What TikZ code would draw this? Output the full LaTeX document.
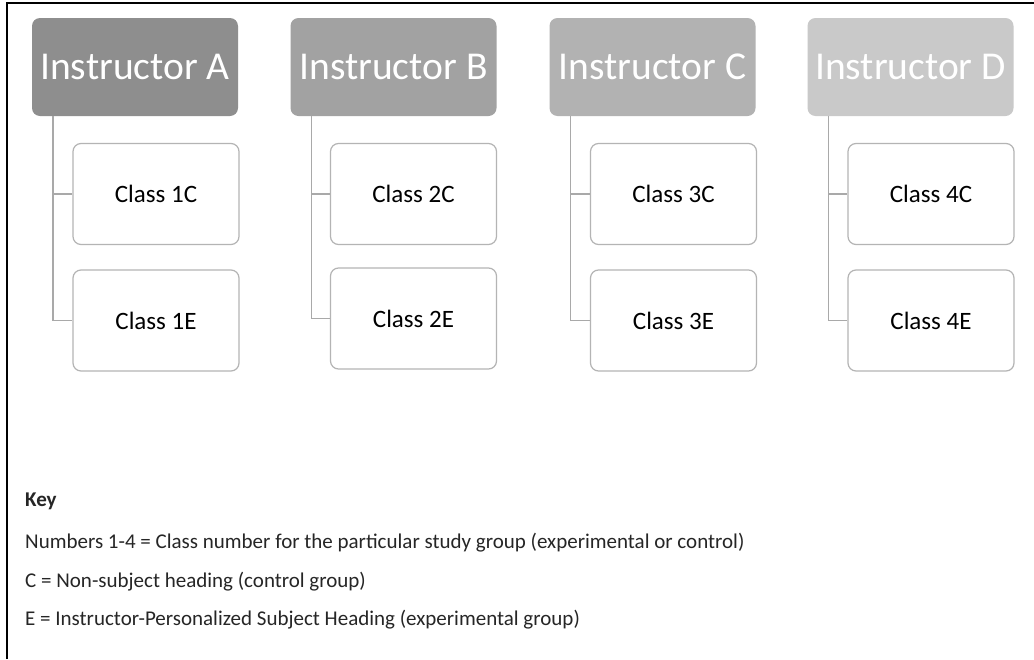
\documentclass[tikz,border=0pt]{standalone}
\usepackage{fontspec}
\setmainfont{Carlito}
\begin{document}
\begin{tikzpicture}[x=1pt,y=-1pt,
  instr/.style={rounded corners=8pt, minimum width=206pt, minimum height=98pt, inner sep=0pt,
    text=white, font=\fontsize{39.5}{48}\selectfont, draw=none},
  cls/.style={rounded corners=8pt, draw=boxgray, line width=1.2pt, fill=white,
    minimum width=166pt, minimum height=101pt, inner sep=0pt, font=\fontsize{25}{30}\selectfont},
  conn/.style={draw=linegray, line width=1.5pt},
  keytext/.style={anchor=base west, inner sep=0pt, font=\fontsize{21}{25}\selectfont, text=black!85}
]
\definecolor{gA}{HTML}{8E8E8E}
\definecolor{gB}{HTML}{A2A2A2}
\definecolor{gC}{HTML}{B2B2B2}
\definecolor{gD}{HTML}{C9C9C9}
\definecolor{boxgray}{HTML}{B4B4B4}
\definecolor{linegray}{HTML}{A9A9A9}
\useasboundingbox (0,0) rectangle (1034,659);
\fill[white] (0,0) rectangle (1034,659);
\draw[black, line width=1.6pt] (7,659) -- (7,3) -- (1034,3);

\node[instr, fill=gA] (iA) at (135,67) {Instructor A};
\node[instr, fill=gB] (iB) at (393.5,67) {Instructor B};
\node[instr, fill=gC] (iC) at (652.5,67) {Instructor C};
\node[instr, fill=gD] (iD) at (910.5,67) {Instructor D};

\node[cls] (a1) at (156,194) {Class 1C};
\node[cls] (a2) at (156,320.5) {Class 1E};
\node[cls] (b1) at (413.5,194) {Class 2C};
\node[cls] (b2) at (413.5,318.5) {Class 2E};
\node[cls] (c1) at (673.5,194) {Class 3C};
\node[cls] (c2) at (673.5,320.5) {Class 3E};
\node[cls] (d1) at (931,194) {Class 4C};
\node[cls] (d2) at (931,320.5) {Class 4E};

\foreach \i/\a/\b in {iA/a1/a2, iB/b1/b2, iC/c1/c2, iD/d1/d2}{
  \draw[conn] ([xshift=21pt]\i.south west) |- (\a.west);
  \draw[conn] ([xshift=21pt]\i.south west) |- (\b.west);
}

\node[keytext, font=\fontsize{21}{25}\selectfont\bfseries] (k0) at (25,506) {Key};
\node[keytext] (k1) at (25,548) {Numbers 1-4 = Class number for the particular study group (experimental or control)};
\node[keytext] (k2) at (25,587) {C = Non-subject heading (control group)};
\node[keytext] (k3) at (25,625.5) {E = Instructor-Personalized Subject Heading (experimental group)};
\end{tikzpicture}
\end{document}
